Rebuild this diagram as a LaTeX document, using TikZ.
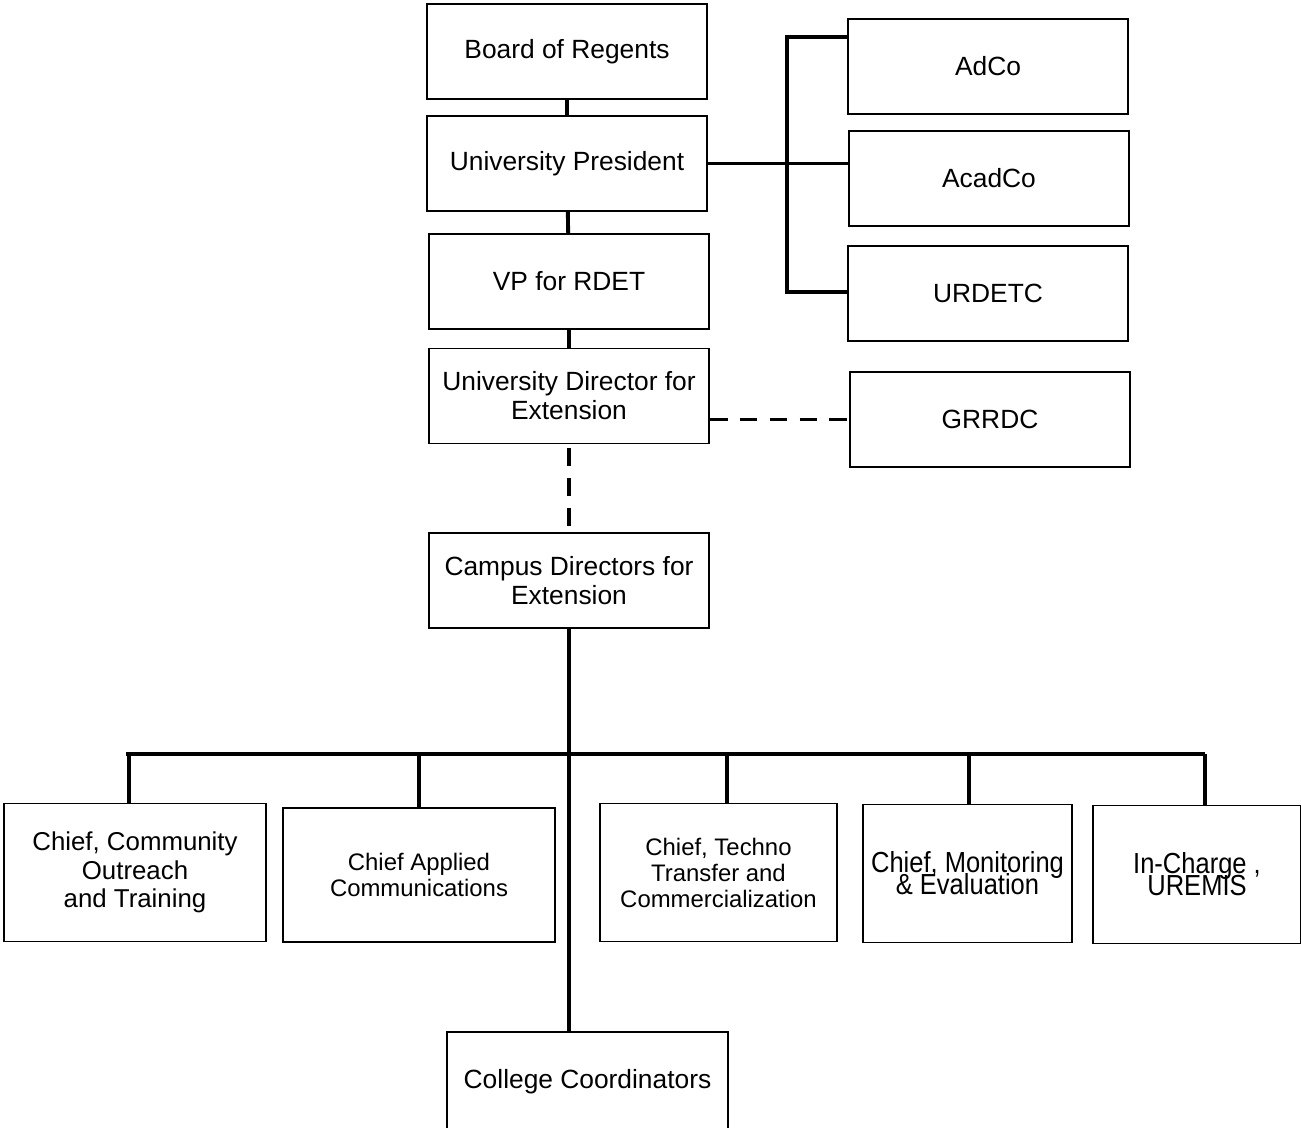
\documentclass[tikz,border=0pt]{standalone}
\usepackage{fontspec}
\setmainfont{Liberation Sans}
\newfontfamily\narrowfont[FakeStretch=0.88]{Liberation Sans}
\usepackage{tikz}
\newcommand\tightlines{\lineskiplimit=-20pt\relax}

\begin{document}
\begin{tikzpicture}[x=0.02cm,y=-0.02cm,
  box/.style={draw,line width=1.1pt,align=center,inner sep=0pt,
    minimum width=5.6cm,minimum height=1.9cm,
    font=\fontsize{15}{16.5}\selectfont},
  lowbox/.style={box,minimum height=2.76cm},
  tightbox/.style={lowbox,minimum width=4.17cm,
    font=\narrowfont\fontsize{16.5}{12.5}\selectfont\tightlines},
  link/.style={line width=2.2pt},
  dotlink/.style={line width=2.2pt,dash pattern=on 10pt off 7pt}]
\useasboundingbox (0,0) rectangle (1301,1127);
% main line
\node[box] (bor) at (567,51.5) {Board of Regents};
\node[box] (pres) at (567,163.5) {University President};
\node[box] (vp) at (569,281.5) {VP for RDET};
\node[box] (ude) at (569,396) {University Director for\\Extension};
\node[box] (cde) at (569,580.5) {Campus Directors for\\Extension};
% councils
\node[box] (adco) at (988,66.5) {AdCo};
\node[box] (acadco) at (989,178.5) {AcadCo};
\node[box] (urdetc) at (988,293.5) {URDETC};
\node[box] (grrdc) at (990,419.5) {GRRDC};
% units
\node[lowbox,minimum width=5.24cm,font=\fontsize{14.7}{16.2}\selectfont] (cot) at (135,872.5)
  {Chief, Community\\Outreach\\ and Training};
\node[lowbox,minimum width=5.44cm,minimum height=2.68cm,font=\fontsize{13.6}{14.8}\selectfont] (cac) at (419,875)
  {Chief Applied\\Communications};
\node[lowbox,minimum width=4.74cm,font=\fontsize{13.6}{14.8}\selectfont] (ttc) at (718.5,872.5)
  {Chief, Techno\\Transfer and\\Commercialization};
\node[tightbox] (mne) at (967.5,873.5) {Chief, Monitoring\\\& Evaluation};
\node[tightbox] (uremis) at (1197,874.5) {In-Charge ,\\UREMIS};
\node[box,minimum width=5.62cm,minimum height=2cm] (cc) at (587.5,1082) {College Coordinators};
% connectors
\draw[link] (bor) -- (pres);
\draw[link] (pres) -- (vp);
\draw[link] (vp) -- (ude);
\coordinate (rtop) at (787,37);
\coordinate (rbot) at (787,292);
\draw[link] (rtop -| adco.west) -- (rtop) -- (rbot) -- (rbot -| urdetc.west);
\draw[link] (pres.east) -- (pres.east -| acadco.west);
\draw[dotlink] (grrdc.west -| ude.east) -- (grrdc.west);
\draw[dotlink] ([yshift=-0.08cm]ude.south) -- (ude.south |- cde.north);
\coordinate (bus) at (0,754);
\draw[link] (cde.south) -- (cde.south |- cc.north);
\draw[link] ([xshift=-0.18cm]cot.north |- bus) -- ([xshift=0.16cm]uremis.north |- bus);
\foreach \n/\dx in {cot/-6,cac/0,ttc/8.5,mne/1.5,uremis/8}
  \draw[link] ([xshift=\dx*0.02cm]\n.north) -- ([xshift=\dx*0.02cm]\n.north |- bus);
\end{tikzpicture}
\end{document}
